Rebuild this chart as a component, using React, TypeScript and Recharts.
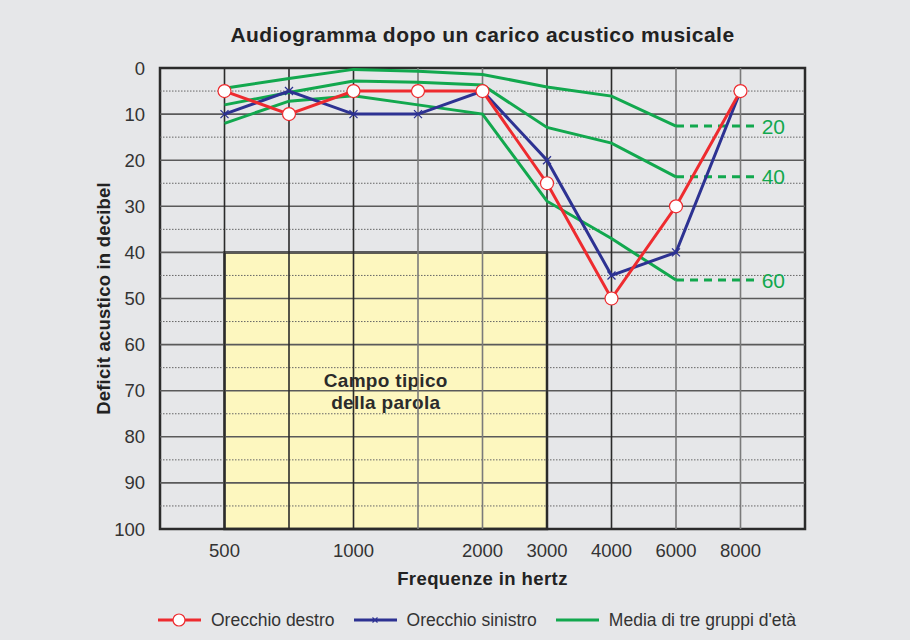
import {
  ComposedChart,
  Line,
  XAxis,
  YAxis,
  ReferenceArea,
  ReferenceLine,
  Label,
} from 'recharts'

const FREQUENCIES = [500, 750, 1000, 1500, 2000, 3000, 4000, 6000, 8000]
const LABELLED_FREQUENCIES = [500, 1000, 2000, 3000, 4000, 6000, 8000]
const DARK_GRID_FREQUENCIES = [500, 750, 1000, 3000, 4000]
const RIGHT_EAR = [5, 10, 5, 5, 5, 25, 50, 30, 5]
const LEFT_EAR = [10, 5, 10, 10, 5, 20, 45, 40, 5]
const AGE_20 = [4.4, 2.3, 0.3, 0.7, 1.4, 4.1, 6.1, 12.6, null]
const AGE_40 = [8, 5.3, 2.8, 3.1, 3.7, 12.9, 16.3, 23.6, null]
const AGE_60 = [12, 7.2, 6, 8, 10, 28.9, 37, 46, null]
const AGE_GROUPS = ['20', '40', '60']
const Y_TICKS = [0, 10, 20, 30, 40, 50, 60, 70, 80, 90, 100]
const Y_MINOR = [5, 15, 25, 35, 45, 55, 65, 75, 85, 95]
// speech field: 500–3000 Hz, 40–100 dB
const SPEECH_FROM = 500
const SPEECH_TO = 3000
const SPEECH_TOP = 40
const SPEECH_BOTTOM = 100
// dashed age markers run from the 6000 Hz point to here (in frequency-slot units)
const DASH_END = 8.25

const RED = '#ee2b2f'
const BLUE = '#2d3292'
const GREEN = '#12a84e'
const INK = '#2b2b2b'
const BG = '#e6e7e9'
const FONT = '"Liberation Sans", Arial, Helvetica, sans-serif'

const idx = (f: number) => FREQUENCIES.indexOf(f)

const rows = FREQUENCIES.map((f, i) => ({
  x: i,
  freq: f,
  right: RIGHT_EAR[i],
  left: LEFT_EAR[i],
  g20: AGE_20[i],
  g40: AGE_40[i],
  g60: AGE_60[i],
}))

const ageSeries = [AGE_20, AGE_40, AGE_60]
const lastAgeIdx = idx(6000)
const dashData = ageSeries.map((s) => [
  { x: lastAgeIdx, y: s[lastAgeIdx] },
  { x: DASH_END, y: s[lastAgeIdx] },
])

function CrossDot(props: any) {
  const { cx, cy } = props
  if (cx == null || cy == null) return null
  const s = 4
  return (
    <path
      d={`M${cx - s},${cy - s}L${cx + s},${cy + s}M${cx - s},${cy + s}L${cx + s},${cy - s}`}
      stroke={BLUE}
      strokeWidth={1.3}
      fill="none"
    />
  )
}

const ageLabel = (text: string) => (props: any) => {
  const { x, y, index } = props
  if (index !== 1) return null
  return (
    <text
      x={x + 5}
      y={y}
      dy={7.5}
      fill={GREEN}
      fontSize={21}
      fontFamily={FONT}
    >
      {text}
    </text>
  )
}

function SpeechLabel(props: any) {
  const { viewBox } = props
  const cx = viewBox.x + viewBox.width / 2
  const cy = viewBox.y + viewBox.height / 2
  return (
    <text
      x={cx}
      y={cy}
      textAnchor="middle"
      fontSize={19}
      fontWeight="bold"
      fill={INK}
      fontFamily={FONT}
      letterSpacing={0.3}
    >
      <tspan x={cx} dy={-4}>Campo tipico</tspan>
      <tspan x={cx} dy={22}>della parola</tspan>
    </text>
  )
}

function LegendItem({ color, marker, text }: { color: string; marker: 'circle' | 'cross' | 'none'; text: string }) {
  return (
    <div style={{ display: 'flex', alignItems: 'center', marginRight: 19 }}>
      <svg width={43} height={16} style={{ marginRight: 10 }}>
        <line x1={0} y1={8} x2={43} y2={8} stroke={color} strokeWidth={3} />
        {marker === 'circle' && (
          <circle cx={21} cy={8} r={6} fill="#fff" stroke={color} strokeWidth={1.2} />
        )}
        {marker === 'cross' && (
          <path d="M18.5,5.5L23.5,10.5M18.5,10.5L23.5,5.5" stroke={color} strokeWidth={1.2} />
        )}
      </svg>
      <span>{text}</span>
    </div>
  )
}

export default function App() {
  return (
    <div
      style={{
        position: 'fixed',
        left: 0,
        top: 0,
        width: 910,
        height: 640,
        background: BG,
        fontFamily: FONT,
        color: INK,
      }}
    >
      <div
        style={{
          position: 'absolute',
          top: 23,
          left: 160,
          width: 645,
          textAlign: 'center',
          fontSize: 21,
          letterSpacing: 0.45,
          fontWeight: 'bold',
          color: '#222',
        }}
      >
        Audiogramma dopo un carico acustico musicale
      </div>
      <ComposedChart
        width={910}
        height={640}
        data={rows}
        margin={{ top: 68, right: 105, bottom: 81, left: 0 }}
        style={{ position: 'absolute', left: 0, top: 0 }}
      >
        <XAxis
          type="number"
          dataKey="x"
          domain={[-1, 9]}
          ticks={LABELLED_FREQUENCIES.map(idx)}
          tickFormatter={(i: number) => String(FREQUENCIES[i])}
          tick={{ fontSize: 18.5, fill: '#333', fontFamily: FONT }}
          tickLine={false}
          tickSize={6}
          tickMargin={9}
          axisLine={false}
          height={30}
        >
          <Label
            value="Frequenze in hertz"
            position="bottom"
            offset={13}
            style={{ fontSize: 18.5, fontWeight: 'bold', fill: '#222', fontFamily: FONT, letterSpacing: 0.4 }}
          />
        </XAxis>
        <YAxis
          type="number"
          reversed
          domain={[0, 100]}
          ticks={Y_TICKS}
          tick={{ fontSize: 18.5, fill: '#333', fontFamily: FONT }}
          tickLine={false}
          tickSize={6}
          tickMargin={9}
          axisLine={false}
          width={160}
        >
          <Label
            value="Deficit acustico in decibel"
            position="center"
            angle={-90}
            dx={23}
            style={{ fontSize: 18.5, fontWeight: 'bold', fill: '#222', fontFamily: FONT, textAnchor: 'middle', letterSpacing: 0.2 }}
          />
        </YAxis>

        <ReferenceArea
          x1={idx(SPEECH_FROM)}
          x2={idx(SPEECH_TO)}
          y1={SPEECH_TOP}
          y2={SPEECH_BOTTOM}
          fill="#fdf7bf"
          fillOpacity={1}
          stroke={INK}
          strokeWidth={2.5}
          label={<SpeechLabel />}
        />

        {Y_MINOR.map((v) => (
          <ReferenceLine key={'m' + v} y={v} stroke="#666" strokeWidth={1} strokeDasharray="1.5 1.5" />
        ))}
        {Y_TICKS.slice(1, -1).map((v) => (
          <ReferenceLine key={'M' + v} y={v} stroke="#5a5a5a" strokeWidth={1.6} />
        ))}
        {FREQUENCIES.map((f) => (
          <ReferenceLine
            key={'v' + f}
            x={idx(f)}
            stroke={DARK_GRID_FREQUENCIES.includes(f) ? INK : '#7a7a7a'}
            strokeWidth={1.6}
          />
        ))}
        <ReferenceArea
          x1={-1}
          x2={9}
          y1={0}
          y2={100}
          fill="none"
          stroke={INK}
          strokeWidth={2.5}
        />

        <Line dataKey="g20" stroke={GREEN} strokeWidth={3} dot={false} isAnimationActive={false} type="linear" />
        <Line dataKey="g40" stroke={GREEN} strokeWidth={3} dot={false} isAnimationActive={false} type="linear" />
        <Line dataKey="g60" stroke={GREEN} strokeWidth={3} dot={false} isAnimationActive={false} type="linear" />
        {dashData.map((d, k) => (
          <Line
            key={'d' + k}
            data={d}
            dataKey="y"
            stroke={GREEN}
            strokeWidth={3}
            strokeDasharray="8 6"
            dot={false}
            isAnimationActive={false}
            type="linear"
            label={ageLabel(AGE_GROUPS[k])}
          />
        ))}
        <Line
          dataKey="left"
          stroke={BLUE}
          strokeWidth={3}
          dot={<CrossDot />}
          isAnimationActive={false}
          type="linear"
        />
        <Line
          dataKey="right"
          stroke={RED}
          strokeWidth={3}
          dot={{ r: 6.5, fill: '#fff', stroke: RED, strokeWidth: 1.2 }}
          isAnimationActive={false}
          type="linear"
        />
      </ComposedChart>
      <div
        style={{
          position: 'absolute',
          left: 158,
          top: 609,
          display: 'flex',
          fontSize: 17.5,
          lineHeight: '22px',
          color: '#333',
        }}
      >
        <LegendItem color={RED} marker="circle" text="Orecchio destro" />
        <LegendItem color={BLUE} marker="cross" text="Orecchio sinistro" />
        <LegendItem color={GREEN} marker="none" text="Media di tre gruppi d'età" />
      </div>
    </div>
  )
}
